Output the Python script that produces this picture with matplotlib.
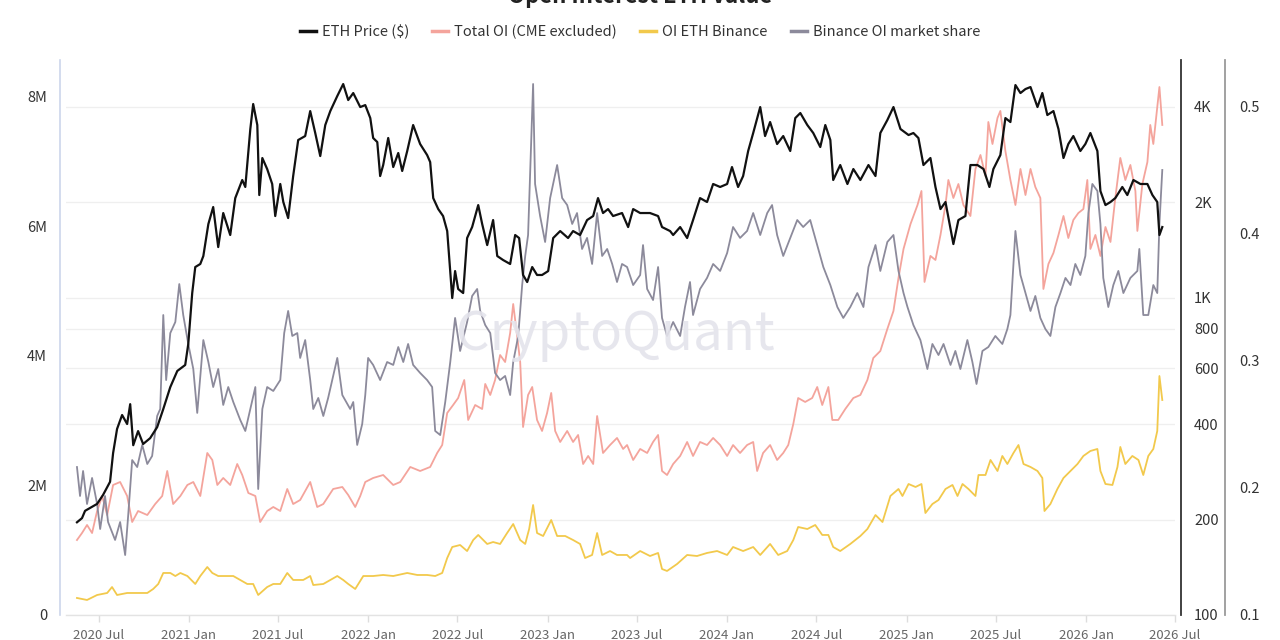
import matplotlib
matplotlib.use("Agg")
import matplotlib.pyplot as plt
import matplotlib.dates as mdates
from matplotlib.ticker import FixedLocator, NullLocator
from datetime import datetime, timedelta

# ---------------- data (dates as decimal years) ----------------
eth_dates = [2020.377, 2020.405, 2020.422, 2020.489, 2020.522, 2020.561, 2020.578, 2020.600, 2020.628, 2020.656, 2020.673, 2020.690, 2020.717, 2020.745, 2020.784, 2020.823, 2020.857, 2020.896, 2020.935, 2020.979, 2020.996, 2021.018, 2021.035, 2021.063, 2021.080, 2021.108, 2021.135, 2021.163, 2021.191, 2021.230, 2021.258, 2021.297, 2021.314, 2021.342, 2021.358, 2021.381, 2021.392, 2021.409, 2021.436, 2021.464, 2021.481, 2021.509, 2021.526, 2021.553, 2021.581, 2021.609, 2021.648, 2021.676, 2021.704, 2021.732, 2021.760, 2021.788, 2021.827, 2021.860, 2021.888, 2021.916, 2021.955, 2021.983, 2022.011, 2022.027, 2022.050, 2022.066, 2022.083, 2022.111, 2022.139, 2022.167, 2022.189, 2022.217, 2022.250, 2022.289, 2022.328, 2022.345, 2022.362, 2022.390, 2022.417, 2022.440, 2022.457, 2022.468, 2022.484, 2022.501, 2022.529, 2022.551, 2022.579, 2022.613, 2022.635, 2022.663, 2022.696, 2022.719, 2022.752, 2022.791, 2022.819, 2022.841, 2022.863, 2022.886, 2022.914, 2022.941, 2022.969, 2023.003, 2023.031, 2023.070, 2023.114, 2023.142, 2023.181, 2023.220, 2023.254, 2023.281, 2023.309, 2023.337, 2023.365, 2023.415, 2023.449, 2023.477, 2023.516, 2023.571, 2023.616, 2023.638, 2023.683, 2023.700, 2023.739, 2023.778, 2023.811, 2023.850, 2023.889, 2023.923, 2023.962, 2024.001, 2024.028, 2024.062, 2024.090, 2024.118, 2024.146, 2024.185, 2024.212, 2024.240, 2024.279, 2024.313, 2024.352, 2024.380, 2024.408, 2024.447, 2024.480, 2024.519, 2024.547, 2024.575, 2024.591, 2024.630, 2024.670, 2024.703, 2024.742, 2024.787, 2024.826, 2024.853, 2024.892, 2024.926, 2024.965, 2025.010, 2025.037, 2025.065, 2025.093, 2025.132, 2025.160, 2025.188, 2025.216, 2025.260, 2025.288, 2025.327, 2025.355, 2025.394, 2025.428, 2025.461, 2025.483, 2025.522, 2025.550, 2025.578, 2025.606, 2025.634, 2025.662, 2025.690, 2025.729, 2025.756, 2025.784, 2025.818, 2025.846, 2025.874, 2025.901, 2025.929, 2025.968, 2025.996, 2026.024, 2026.063, 2026.080, 2026.108, 2026.136, 2026.163, 2026.202, 2026.230, 2026.264, 2026.303, 2026.342, 2026.370, 2026.397, 2026.409, 2026.425]
eth_price = [196, 202, 213, 224, 239, 263, 324, 386, 427, 400, 462, 343, 380, 346, 361, 391, 446, 523, 588, 614, 715, 1035, 1250, 1278, 1354, 1708, 1932, 1445, 1850, 1577, 2062, 2351, 2235, 3404, 4081, 3504, 2108, 2758, 2546, 2284, 1810, 2284, 2004, 1784, 2420, 3143, 3235, 3878, 3307, 2798, 3504, 3878, 4326, 4718, 4201, 4420, 3993, 4050, 3686, 3189, 3097, 2420, 2621, 3189, 2583, 2860, 2510, 2902, 3504, 3053, 2818, 2678, 2062, 1904, 1810, 1623, 1214, 998, 1214, 1066, 1035, 1543, 1671, 1960, 1708, 1466, 1758, 1354, 1315, 1278, 1577, 1543, 1180, 1121, 1250, 1180, 1180, 1214, 1543, 1623, 1543, 1623, 1577, 1758, 1810, 2062, 1850, 1904, 1810, 1850, 1671, 1904, 1850, 1850, 1810, 1671, 1623, 1577, 1671, 1543, 1758, 2062, 2004, 2284, 2235, 2284, 2583, 2235, 2420, 2902, 3307, 3993, 3235, 3581, 3053, 3235, 2902, 3686, 3823, 3504, 3307, 2987, 3504, 3143, 2351, 2621, 2284, 2546, 2351, 2621, 2420, 3307, 3633, 3993, 3404, 3259, 3307, 3189, 2621, 2758, 2235, 1904, 2004, 1477, 1758, 1810, 2621, 2621, 2546, 2235, 2546, 2818, 3686, 3581, 4684, 4420, 4550, 4617, 3993, 4420, 3768, 3878, 3404, 2758, 3053, 3235, 2902, 3053, 3307, 2902, 2170, 1960, 2004, 2062, 2235, 2108, 2351, 2284, 2284, 2108, 2004, 1577, 1671]

oi_dates = [2020.377, 2020.405, 2020.433, 2020.461, 2020.489, 2020.517, 2020.545, 2020.578, 2020.617, 2020.656, 2020.684, 2020.717, 2020.768, 2020.812, 2020.851, 2020.879, 2020.912, 2020.952, 2020.991, 2021.024, 2021.063, 2021.102, 2021.130, 2021.158, 2021.191, 2021.230, 2021.269, 2021.297, 2021.331, 2021.370, 2021.397, 2021.436, 2021.470, 2021.509, 2021.548, 2021.581, 2021.620, 2021.676, 2021.715, 2021.749, 2021.804, 2021.855, 2021.888, 2021.927, 2021.955, 2021.983, 2022.027, 2022.083, 2022.139, 2022.178, 2022.234, 2022.289, 2022.345, 2022.384, 2022.412, 2022.440, 2022.473, 2022.501, 2022.535, 2022.557, 2022.596, 2022.635, 2022.652, 2022.680, 2022.707, 2022.735, 2022.763, 2022.791, 2022.808, 2022.830, 2022.847, 2022.863, 2022.891, 2022.914, 2022.941, 2022.969, 2022.997, 2023.020, 2023.042, 2023.070, 2023.109, 2023.142, 2023.170, 2023.198, 2023.226, 2023.254, 2023.276, 2023.309, 2023.348, 2023.387, 2023.421, 2023.443, 2023.477, 2023.516, 2023.555, 2023.588, 2023.616, 2023.638, 2023.666, 2023.700, 2023.739, 2023.778, 2023.811, 2023.850, 2023.889, 2023.923, 2023.962, 2024.001, 2024.034, 2024.073, 2024.112, 2024.146, 2024.168, 2024.201, 2024.240, 2024.279, 2024.313, 2024.341, 2024.369, 2024.396, 2024.435, 2024.474, 2024.502, 2024.530, 2024.564, 2024.586, 2024.619, 2024.658, 2024.703, 2024.742, 2024.781, 2024.814, 2024.853, 2024.892, 2024.926, 2024.954, 2024.982, 2025.021, 2025.060, 2025.082, 2025.099, 2025.132, 2025.160, 2025.188, 2025.216, 2025.232, 2025.260, 2025.288, 2025.316, 2025.355, 2025.383, 2025.411, 2025.439, 2025.455, 2025.478, 2025.506, 2025.522, 2025.550, 2025.578, 2025.606, 2025.634, 2025.662, 2025.690, 2025.717, 2025.745, 2025.762, 2025.790, 2025.818, 2025.846, 2025.874, 2025.901, 2025.929, 2025.957, 2025.985, 2026.007, 2026.024, 2026.052, 2026.080, 2026.108, 2026.136, 2026.163, 2026.191, 2026.219, 2026.247, 2026.275, 2026.286, 2026.314, 2026.342, 2026.358, 2026.375, 2026.397, 2026.409, 2026.425]
oi_total_m = [1.158, 1.266, 1.390, 1.266, 1.606, 1.838, 1.544, 2.008, 2.054, 1.838, 1.436, 1.606, 1.544, 1.714, 1.838, 2.224, 1.714, 1.838, 2.008, 2.054, 1.838, 2.502, 2.394, 2.008, 2.116, 2.008, 2.332, 2.162, 1.884, 1.838, 1.436, 1.606, 1.668, 1.606, 1.946, 1.714, 1.776, 2.054, 1.668, 1.714, 1.946, 1.977, 1.853, 1.668, 1.838, 2.054, 2.116, 2.162, 2.008, 2.054, 2.286, 2.224, 2.286, 2.502, 2.625, 3.120, 3.243, 3.351, 3.629, 3.012, 3.243, 3.181, 3.568, 3.398, 3.629, 4.015, 3.907, 4.355, 4.803, 4.309, 3.907, 2.903, 3.398, 3.521, 3.012, 2.842, 3.120, 3.429, 2.842, 2.672, 2.842, 2.672, 2.780, 2.332, 2.456, 2.332, 3.073, 2.502, 2.625, 2.734, 2.564, 2.625, 2.394, 2.564, 2.502, 2.672, 2.780, 2.224, 2.162, 2.332, 2.456, 2.672, 2.456, 2.672, 2.625, 2.734, 2.625, 2.456, 2.625, 2.502, 2.625, 2.672, 2.224, 2.502, 2.625, 2.394, 2.502, 2.625, 2.950, 3.351, 3.290, 3.351, 3.521, 3.243, 3.521, 3.012, 3.012, 3.181, 3.351, 3.398, 3.629, 3.969, 4.077, 4.417, 4.695, 5.205, 5.653, 6.039, 6.332, 6.548, 5.143, 5.545, 5.483, 5.869, 6.332, 6.718, 6.440, 6.656, 6.332, 6.162, 6.888, 7.104, 6.780, 7.614, 7.274, 7.676, 7.784, 7.166, 6.718, 6.332, 6.888, 6.486, 6.888, 6.610, 6.440, 5.035, 5.421, 5.591, 5.869, 6.162, 5.822, 6.100, 6.208, 6.270, 6.718, 5.653, 5.869, 5.545, 5.992, 5.761, 6.440, 7.058, 6.718, 6.950, 6.548, 5.931, 6.656, 6.996, 7.568, 7.274, 7.846, 8.154, 7.568]

bn_dates = [2020.377, 2020.433, 2020.489, 2020.545, 2020.572, 2020.600, 2020.656, 2020.712, 2020.768, 2020.801, 2020.829, 2020.857, 2020.896, 2020.924, 2020.952, 2020.991, 2021.035, 2021.063, 2021.102, 2021.130, 2021.163, 2021.213, 2021.247, 2021.286, 2021.325, 2021.358, 2021.386, 2021.436, 2021.470, 2021.509, 2021.548, 2021.581, 2021.637, 2021.676, 2021.693, 2021.749, 2021.788, 2021.827, 2021.860, 2021.888, 2021.927, 2021.972, 2022.027, 2022.083, 2022.139, 2022.217, 2022.273, 2022.328, 2022.373, 2022.412, 2022.440, 2022.468, 2022.512, 2022.551, 2022.585, 2022.613, 2022.663, 2022.696, 2022.735, 2022.774, 2022.808, 2022.847, 2022.875, 2022.897, 2022.919, 2022.941, 2022.975, 2023.020, 2023.053, 2023.098, 2023.142, 2023.181, 2023.209, 2023.248, 2023.276, 2023.304, 2023.348, 2023.387, 2023.443, 2023.460, 2023.516, 2023.571, 2023.616, 2023.638, 2023.666, 2023.722, 2023.778, 2023.833, 2023.889, 2023.945, 2024.001, 2024.034, 2024.090, 2024.146, 2024.185, 2024.240, 2024.285, 2024.335, 2024.369, 2024.396, 2024.447, 2024.491, 2024.530, 2024.564, 2024.591, 2024.630, 2024.686, 2024.742, 2024.781, 2024.826, 2024.865, 2024.909, 2024.954, 2024.976, 2025.010, 2025.049, 2025.082, 2025.104, 2025.143, 2025.177, 2025.216, 2025.255, 2025.283, 2025.311, 2025.344, 2025.383, 2025.400, 2025.439, 2025.467, 2025.506, 2025.533, 2025.561, 2025.595, 2025.623, 2025.651, 2025.690, 2025.729, 2025.756, 2025.768, 2025.801, 2025.840, 2025.874, 2025.913, 2025.952, 2025.985, 2026.024, 2026.063, 2026.080, 2026.108, 2026.147, 2026.175, 2026.191, 2026.219, 2026.258, 2026.292, 2026.319, 2026.347, 2026.375, 2026.397, 2026.409, 2026.425]
oi_binance_m = [0.263, 0.232, 0.309, 0.340, 0.432, 0.309, 0.340, 0.340, 0.340, 0.402, 0.479, 0.649, 0.649, 0.602, 0.649, 0.602, 0.479, 0.602, 0.741, 0.649, 0.602, 0.602, 0.602, 0.541, 0.479, 0.479, 0.309, 0.432, 0.479, 0.479, 0.649, 0.541, 0.541, 0.602, 0.463, 0.479, 0.541, 0.602, 0.541, 0.479, 0.402, 0.602, 0.602, 0.618, 0.602, 0.649, 0.618, 0.618, 0.602, 0.649, 0.880, 1.050, 1.081, 0.988, 1.158, 1.236, 1.097, 1.127, 1.097, 1.266, 1.405, 1.158, 1.097, 1.328, 1.699, 1.266, 1.220, 1.467, 1.220, 1.220, 1.158, 1.097, 0.880, 0.927, 1.266, 0.927, 0.988, 0.927, 0.927, 0.880, 0.988, 0.911, 0.958, 0.710, 0.680, 0.788, 0.927, 0.911, 0.958, 0.988, 0.927, 1.050, 0.988, 1.050, 0.927, 1.097, 0.927, 0.988, 1.158, 1.359, 1.328, 1.390, 1.236, 1.236, 1.050, 0.988, 1.097, 1.220, 1.328, 1.544, 1.436, 1.838, 1.946, 1.838, 2.023, 1.977, 2.023, 1.575, 1.714, 1.776, 1.946, 2.008, 1.838, 2.023, 1.946, 1.838, 2.162, 2.162, 2.394, 2.224, 2.456, 2.332, 2.502, 2.625, 2.332, 2.286, 2.224, 2.116, 1.606, 1.714, 1.946, 2.116, 2.224, 2.332, 2.456, 2.533, 2.564, 2.224, 2.023, 2.008, 2.286, 2.595, 2.332, 2.456, 2.394, 2.162, 2.456, 2.564, 2.842, 3.691, 3.320]

share_dates = [2020.377, 2020.394, 2020.411, 2020.433, 2020.461, 2020.489, 2020.506, 2020.533, 2020.550, 2020.589, 2020.617, 2020.645, 2020.662, 2020.684, 2020.712, 2020.740, 2020.768, 2020.795, 2020.823, 2020.840, 2020.857, 2020.873, 2020.896, 2020.924, 2020.946, 2020.968, 2020.996, 2021.024, 2021.046, 2021.080, 2021.108, 2021.135, 2021.163, 2021.191, 2021.219, 2021.247, 2021.286, 2021.314, 2021.342, 2021.370, 2021.386, 2021.409, 2021.436, 2021.470, 2021.509, 2021.531, 2021.553, 2021.576, 2021.604, 2021.620, 2021.648, 2021.676, 2021.693, 2021.721, 2021.749, 2021.776, 2021.804, 2021.827, 2021.855, 2021.899, 2021.916, 2021.938, 2021.966, 2021.983, 2021.999, 2022.027, 2022.066, 2022.105, 2022.139, 2022.167, 2022.195, 2022.222, 2022.250, 2022.289, 2022.328, 2022.356, 2022.373, 2022.401, 2022.429, 2022.457, 2022.484, 2022.512, 2022.551, 2022.579, 2022.607, 2022.624, 2022.652, 2022.680, 2022.707, 2022.735, 2022.763, 2022.791, 2022.808, 2022.836, 2022.858, 2022.875, 2022.891, 2022.919, 2022.930, 2022.958, 2022.986, 2023.014, 2023.053, 2023.081, 2023.109, 2023.137, 2023.164, 2023.192, 2023.220, 2023.248, 2023.276, 2023.304, 2023.332, 2023.360, 2023.387, 2023.415, 2023.443, 2023.477, 2023.516, 2023.532, 2023.555, 2023.588, 2023.616, 2023.638, 2023.666, 2023.700, 2023.739, 2023.766, 2023.794, 2023.811, 2023.850, 2023.889, 2023.923, 2023.962, 2024.001, 2024.034, 2024.073, 2024.112, 2024.146, 2024.185, 2024.224, 2024.251, 2024.279, 2024.313, 2024.352, 2024.391, 2024.424, 2024.463, 2024.502, 2024.536, 2024.575, 2024.614, 2024.647, 2024.686, 2024.725, 2024.759, 2024.787, 2024.826, 2024.853, 2024.892, 2024.926, 2024.954, 2024.982, 2025.004, 2025.037, 2025.076, 2025.115, 2025.143, 2025.177, 2025.205, 2025.244, 2025.271, 2025.299, 2025.338, 2025.366, 2025.389, 2025.422, 2025.455, 2025.494, 2025.533, 2025.561, 2025.578, 2025.606, 2025.634, 2025.662, 2025.690, 2025.717, 2025.745, 2025.773, 2025.801, 2025.829, 2025.857, 2025.885, 2025.913, 2025.940, 2025.968, 2025.996, 2026.013, 2026.035, 2026.063, 2026.080, 2026.096, 2026.124, 2026.152, 2026.180, 2026.208, 2026.247, 2026.286, 2026.297, 2026.319, 2026.347, 2026.375, 2026.397, 2026.409, 2026.425]
binance_share = [0.2165, 0.1937, 0.2134, 0.1874, 0.2079, 0.1874, 0.1677, 0.1937, 0.1732, 0.1591, 0.1732, 0.1472, 0.1787, 0.2220, 0.2165, 0.2339, 0.2189, 0.2252, 0.2567, 0.2622, 0.3362, 0.2850, 0.3220, 0.3307, 0.3606, 0.3362, 0.3134, 0.2937, 0.2591, 0.3165, 0.2992, 0.2795, 0.2937, 0.2654, 0.2795, 0.2677, 0.2535, 0.2449, 0.2622, 0.2795, 0.1992, 0.2622, 0.2795, 0.2764, 0.2850, 0.3220, 0.3394, 0.3197, 0.3220, 0.3024, 0.3165, 0.2850, 0.2622, 0.2709, 0.2567, 0.2709, 0.2882, 0.3024, 0.2732, 0.2622, 0.2677, 0.2339, 0.2504, 0.2732, 0.3024, 0.2969, 0.2850, 0.2992, 0.2969, 0.3110, 0.2992, 0.3134, 0.2969, 0.2906, 0.2850, 0.2795, 0.2449, 0.2417, 0.2677, 0.2992, 0.3339, 0.3079, 0.3307, 0.3512, 0.3567, 0.3394, 0.3283, 0.3220, 0.2906, 0.2850, 0.2882, 0.2732, 0.2992, 0.3197, 0.3598, 0.3827, 0.3992, 0.5181, 0.4394, 0.4142, 0.3937, 0.4283, 0.4543, 0.4283, 0.4228, 0.4079, 0.4165, 0.3882, 0.3969, 0.3764, 0.4165, 0.3827, 0.3882, 0.3764, 0.3622, 0.3764, 0.3740, 0.3598, 0.3677, 0.3913, 0.3567, 0.3480, 0.3740, 0.3339, 0.3197, 0.3307, 0.3197, 0.3425, 0.3622, 0.3362, 0.3567, 0.3654, 0.3764, 0.3709, 0.3850, 0.4055, 0.3969, 0.4024, 0.4165, 0.3992, 0.4165, 0.4228, 0.3992, 0.3827, 0.3969, 0.4110, 0.4055, 0.4110, 0.3913, 0.3740, 0.3598, 0.3425, 0.3339, 0.3425, 0.3535, 0.3425, 0.3740, 0.3913, 0.3709, 0.3937, 0.3992, 0.3709, 0.3535, 0.3425, 0.3283, 0.3165, 0.2937, 0.3134, 0.3047, 0.3134, 0.2969, 0.3079, 0.2937, 0.3165, 0.2992, 0.2819, 0.3079, 0.3110, 0.3197, 0.3134, 0.3252, 0.3362, 0.4024, 0.3677, 0.3535, 0.3394, 0.3512, 0.3339, 0.3252, 0.3197, 0.3425, 0.3535, 0.3654, 0.3598, 0.3764, 0.3677, 0.3827, 0.4165, 0.4394, 0.4339, 0.4079, 0.3654, 0.3425, 0.3598, 0.3709, 0.3535, 0.3654, 0.3709, 0.3882, 0.3362, 0.3362, 0.3598, 0.3535, 0.4079, 0.4504]

x_tick_labels = ["2020 Jul", "2021 Jan", "2021 Jul", "2022 Jan", "2022 Jul", "2023 Jan", "2023 Jul",
                 "2024 Jan", "2024 Jul", "2025 Jan", "2025 Jul", "2026 Jan", "2026 Jul"]
oi_ticks = [0, 2e6, 4e6, 6e6, 8e6]
oi_tick_labels = ["0", "2M", "4M", "6M", "8M"]
price_ticks = [100, 200, 400, 600, 800, 1000, 2000, 4000]
price_tick_labels = ["100", "200", "400", "600", "800", "1K", "2K", "4K"]
share_ticks = [0.1, 0.2, 0.3, 0.4, 0.5]
share_tick_labels = ["0.1", "0.2", "0.3", "0.4", "0.5"]

series_names = ["ETH Price ($)", "Total OI (CME excluded)", "OI ETH Binance", "Binance OI market share"]
colors = ["#111111", "#F4A49C", "#F2C94C", "#8C8A9B"]


def to_dt(t):
    y = int(t)
    start = datetime(y, 1, 1)
    span = (datetime(y + 1, 1, 1) - start).days
    return start + timedelta(days=(t - y) * span)


def month_dt(label):
    y, m = label.split()
    return datetime(int(y), 1 if m == "Jan" else 7, 1)


FONT = ["Noto Sans CJK KR", "DejaVu Sans"]
plt.rcParams["font.family"] = FONT

W, H = 1280, 640
fig = plt.figure(figsize=(W / 100, H / 100), dpi=100)
fig.patch.set_facecolor("white")

left_px, right_px, top_px, bot_px = 66, 1175, 60, 615
rect = [left_px / W, 1 - bot_px / H, (right_px - left_px) / W, (bot_px - top_px) / H]

px2pt = 0.72

# base axes: price scale (right) with grid
ax = fig.add_axes(rect)
ax.set_yscale("log")
ax.set_ylim(100, 5618)
ax.grid(axis="y", color="#efefef", linewidth=0.9)
ax.set_axisbelow(True)
ax.set_xlim(to_dt(2020.316), datetime(2026, 7, 1))

# twins
ax_oi = ax.twinx()
ax_sh = ax.twinx()
ax_p = ax.twinx()

# price axis styling (after twins, since twinx moves ticks)
ax.yaxis.set_major_locator(FixedLocator(price_ticks))
ax.yaxis.set_minor_locator(NullLocator())
ax.set_yticklabels(price_tick_labels)
ax.yaxis.tick_right()
ax.yaxis.set_label_position("right")
ax.tick_params(axis="y", which="both", length=0, pad=13 * px2pt, labelsize=10.5, labelcolor="#333333",
               left=False, labelleft=False, right=True, labelright=True)
for s in ["top", "left"]:
    ax.spines[s].set_visible(False)
ax.spines["right"].set_visible(True)
ax.spines["right"].set_position(("outward", 6 * px2pt))
ax.spines["right"].set_color("#333333")
ax.spines["right"].set_linewidth(1.3)
ax.spines["bottom"].set_color("#e3e3e3")
ax.spines["bottom"].set_linewidth(1.0)

ax.xaxis.set_major_locator(FixedLocator([mdates.date2num(month_dt(l)) for l in x_tick_labels]))
ax.set_xticklabels(x_tick_labels)
ax.tick_params(axis="x", length=5, color="#dddddd", width=1, pad=5, labelsize=9.5, labelcolor="#666666")

# left axis: open interest
ax_oi.set_ylim(0, 8.571e6)
ax_oi.yaxis.set_major_locator(FixedLocator(oi_ticks))
ax_oi.set_yticklabels(oi_tick_labels)
ax_oi.yaxis.tick_left()
ax_oi.tick_params(axis="y", length=0, pad=13 * px2pt, labelsize=10.5, labelcolor="#333333",
                  left=True, labelleft=True, right=False, labelright=False)
for s in ["top", "right", "bottom"]:
    ax_oi.spines[s].set_visible(False)
ax_oi.spines["left"].set_visible(True)
ax_oi.spines["left"].set_position(("outward", 6 * px2pt))
ax_oi.spines["left"].set_color("#ccd6eb")
ax_oi.spines["left"].set_linewidth(1.2)

oi_dt = [to_dt(t) for t in oi_dates]
bn_dt = [to_dt(t) for t in bn_dates]
l_oi, = ax_oi.plot(oi_dt, [v * 1e6 for v in oi_total_m], color=colors[1], lw=1.3, label=series_names[1])
l_bn, = ax_oi.plot(bn_dt, [v * 1e6 for v in oi_binance_m], color=colors[2], lw=1.3, label=series_names[2])

# share axis
ax_sh.set_ylim(0.1, 0.537)
ax_sh.yaxis.set_major_locator(FixedLocator(share_ticks))
ax_sh.set_yticklabels(share_tick_labels)
ax_sh.tick_params(axis="y", length=0, pad=14 * px2pt, labelsize=10.5, labelcolor="#333333")
for s in ["top", "left", "bottom"]:
    ax_sh.spines[s].set_visible(False)
ax_sh.spines["right"].set_position(("outward", 50 * px2pt))
ax_sh.spines["right"].set_color("#9a9a9a")
ax_sh.spines["right"].set_linewidth(1.3)
sh_dt = [to_dt(t) for t in share_dates]
l_sh, = ax_sh.plot(sh_dt, binance_share, color=colors[3], lw=1.3, label=series_names[3])

# overlay for ETH price (drawn on top)
ax_p.set_yscale("log")
ax_p.set_ylim(100, 5618)
ax_p.axis("off")
eth_dt = [to_dt(t) for t in eth_dates]
l_eth, = ax_p.plot(eth_dt, eth_price, color=colors[0], lw=1.6, label=series_names[0])

# watermark
fig.text(615 / W, 1 - 335 / H, "CryptoQuant", fontsize=38, color="#e4e4ec", ha="center", va="center",
         fontweight="medium", zorder=0, alpha=0.9)

# title (clipped at the top like the reference)
fig.text(0.5, 1 + 4 / H, "Open Interest ETH value", fontsize=16, fontweight="bold", color="#222222",
         ha="center", va="center")

leg = fig.legend([l_eth, l_oi, l_bn, l_sh], series_names, loc="center", bbox_to_anchor=(640 / W, 1 - 32 / H),
                 ncol=4, frameon=False, fontsize=10.5, handlelength=1.1, handletextpad=0.4,
                 columnspacing=1.6, labelcolor="#333333")
for h in leg.legend_handles:
    h.set_linewidth(2.5)

fig.savefig("out.png", dpi=100, facecolor="white")
